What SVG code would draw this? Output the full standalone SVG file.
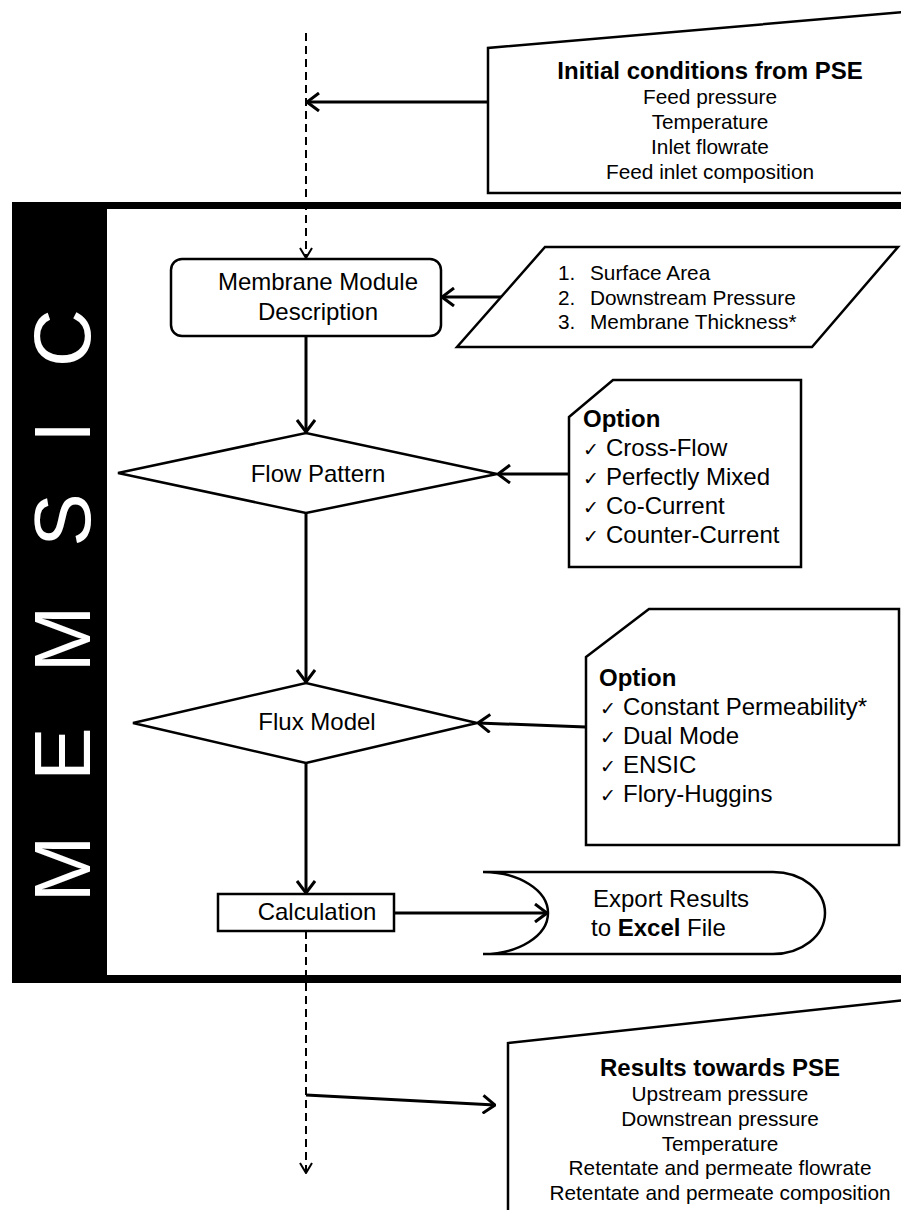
<svg xmlns="http://www.w3.org/2000/svg" width="901" height="1210" viewBox="0 0 901 1210">
<style>
text{font-family:"Liberation Sans",Arial,sans-serif;fill:#000}
.t24{font-size:24px}
.b24{font-size:24px;font-weight:bold}
.t21{font-size:20.8px}
.mid{text-anchor:middle}
.shape{fill:#fff;stroke:#000;stroke-width:2.5}
.flow{fill:none;stroke:#000;stroke-width:3}
.dash{fill:none;stroke:#000;stroke-width:2;stroke-dasharray:8 5}
.ck{font-family:"DejaVu Sans",sans-serif;font-size:19px}
</style>
<defs>
<marker id="chev" viewBox="0 0 14 20" refX="13" refY="10" markerWidth="14" markerHeight="20" markerUnits="userSpaceOnUse" orient="auto">
<path d="M1,1 L13,10 L1,19" fill="none" stroke="#000" stroke-width="3" stroke-dasharray="none"/>
</marker>
<marker id="chev-s" viewBox="0 0 12 14" refX="11" refY="7" markerWidth="12" markerHeight="14" markerUnits="userSpaceOnUse" orient="auto">
<path d="M1,1 L11,7 L1,13" fill="none" stroke="#000" stroke-width="2" stroke-dasharray="none"/>
</marker>
</defs>
<rect width="901" height="1210" fill="#fff"/>

<g id="memsic-frame">
<rect x="12" y="202" width="900" height="781" fill="#000"/>
<rect x="107" y="209" width="800" height="766" fill="#fff"/>
<text transform="rotate(-90)" x="-869 -754 -639 -520 -432 -338" y="90" text-anchor="middle" font-size="80" style="fill:#fff">MEMSIC</text>
</g>

<g id="initial-conditions">
<path class="shape" d="M905,12 L488,48 L488,193 L905,193"/>
<text class="b24 mid" x="710" y="79">Initial conditions from PSE</text>
<text class="t21 mid" x="710" y="104">Feed pressure</text>
<text class="t21 mid" x="710" y="129">Temperature</text>
<text class="t21 mid" x="710" y="154">Inlet flowrate</text>
<text class="t21 mid" x="710" y="179">Feed inlet composition</text>
</g>

<g id="results-to-pse">
<path class="shape" d="M905,1000 L508,1043 L508,1215"/>
<text class="b24 mid" x="720" y="1076">Results towards PSE</text>
<text class="t21 mid" x="720" y="1101">Upstream pressure</text>
<text class="t21 mid" x="720" y="1126">Downstrean pressure</text>
<text class="t21 mid" x="720" y="1151">Temperature</text>
<text class="t21 mid" x="720" y="1175">Retentate and permeate flowrate</text>
<text class="t21 mid" x="720" y="1200">Retentate and permeate composition</text>
</g>

<g id="connectors">
<path class="dash" d="M306,33 L306,258" marker-end="url(#chev-s)"/>
<path class="dash" d="M306,931 L306,1173" marker-end="url(#chev-s)"/>
<path class="flow" d="M488,102 L307,102" marker-end="url(#chev)"/>
<path class="flow" d="M501,297 L442,297" marker-end="url(#chev)"/>
<path class="flow" d="M306,336 L306,432" marker-end="url(#chev)"/>
<path class="flow" d="M569,474 L498,474" marker-end="url(#chev)"/>
<path class="flow" d="M306,513 L306,682" marker-end="url(#chev)"/>
<path class="flow" d="M586,727 L478,723" marker-end="url(#chev)"/>
<path class="flow" d="M306,763 L306,893" marker-end="url(#chev)"/>
<path class="flow" d="M394,913 L547,913" marker-end="url(#chev)"/>
<path class="flow" d="M306,1095 L495,1105" marker-end="url(#chev)"/>
</g>

<g id="membrane-module">
<rect class="shape" x="171" y="259" width="270" height="77" rx="11"/>
<text class="t24 mid" x="318" y="290">Membrane Module</text>
<text class="t24 mid" x="318" y="320">Description</text>
</g>

<g id="module-parameters">
<polygon class="shape" points="545,247 898,247 812,347 457,347"/>
<text class="t21" x="558" y="280">1.</text>
<text class="t21" x="590" y="280">Surface Area</text>
<text class="t21" x="558" y="304.5">2.</text>
<text class="t21" x="590" y="304.5">Downstream Pressure</text>
<text class="t21" x="558" y="329">3.</text>
<text class="t21" x="590" y="329">Membrane Thickness*</text>
</g>

<g id="flow-pattern">
<polygon class="shape" points="118,473 306,433 497,474 306,513"/>
<text class="t24 mid" x="318" y="482">Flow Pattern</text>
</g>

<g id="flow-options">
<polygon class="shape" points="569,417 613,380 801,380 801,567 569,567"/>
<text class="b24" x="583" y="427">Option</text>
<text class="t24"><tspan class="ck" x="583" y="456">✓</tspan><tspan x="606" y="456">Cross-Flow</tspan></text>
<text class="t24"><tspan class="ck" x="583" y="485">✓</tspan><tspan x="606" y="485">Perfectly Mixed</tspan></text>
<text class="t24"><tspan class="ck" x="583" y="514">✓</tspan><tspan x="606" y="514">Co-Current</tspan></text>
<text class="t24"><tspan class="ck" x="583" y="543">✓</tspan><tspan x="606" y="543">Counter-Current</tspan></text>
</g>

<g id="flux-model">
<polygon class="shape" points="133,723 306,683 477,723 306,763"/>
<text class="t24 mid" x="317" y="730">Flux Model</text>
</g>

<g id="flux-options">
<polygon class="shape" points="586,657 649,609 899,609 899,845 586,845"/>
<text class="b24" x="599" y="686">Option</text>
<text class="t24"><tspan class="ck" x="600" y="715">✓</tspan><tspan x="623" y="715">Constant Permeability*</tspan></text>
<text class="t24"><tspan class="ck" x="600" y="744">✓</tspan><tspan x="623" y="744">Dual Mode</tspan></text>
<text class="t24"><tspan class="ck" x="600" y="773">✓</tspan><tspan x="623" y="773">ENSIC</tspan></text>
<text class="t24"><tspan class="ck" x="600" y="802">✓</tspan><tspan x="623" y="802">Flory-Huggins</tspan></text>
</g>

<g id="calculation">
<rect class="shape" x="218" y="894" width="176" height="37"/>
<text class="t24 mid" x="317" y="920">Calculation</text>
</g>

<g id="export-results">
<path class="shape" d="M483,872 L773,872 A52,41 0 0 1 773,954 L483,954 A65,41 0 0 0 483,872 Z"/>
<text class="t24" x="593" y="907">Export Results</text>
<text class="t24" x="591" y="936">to <tspan font-weight="bold">Excel</tspan> File</text>
</g>
</svg>
